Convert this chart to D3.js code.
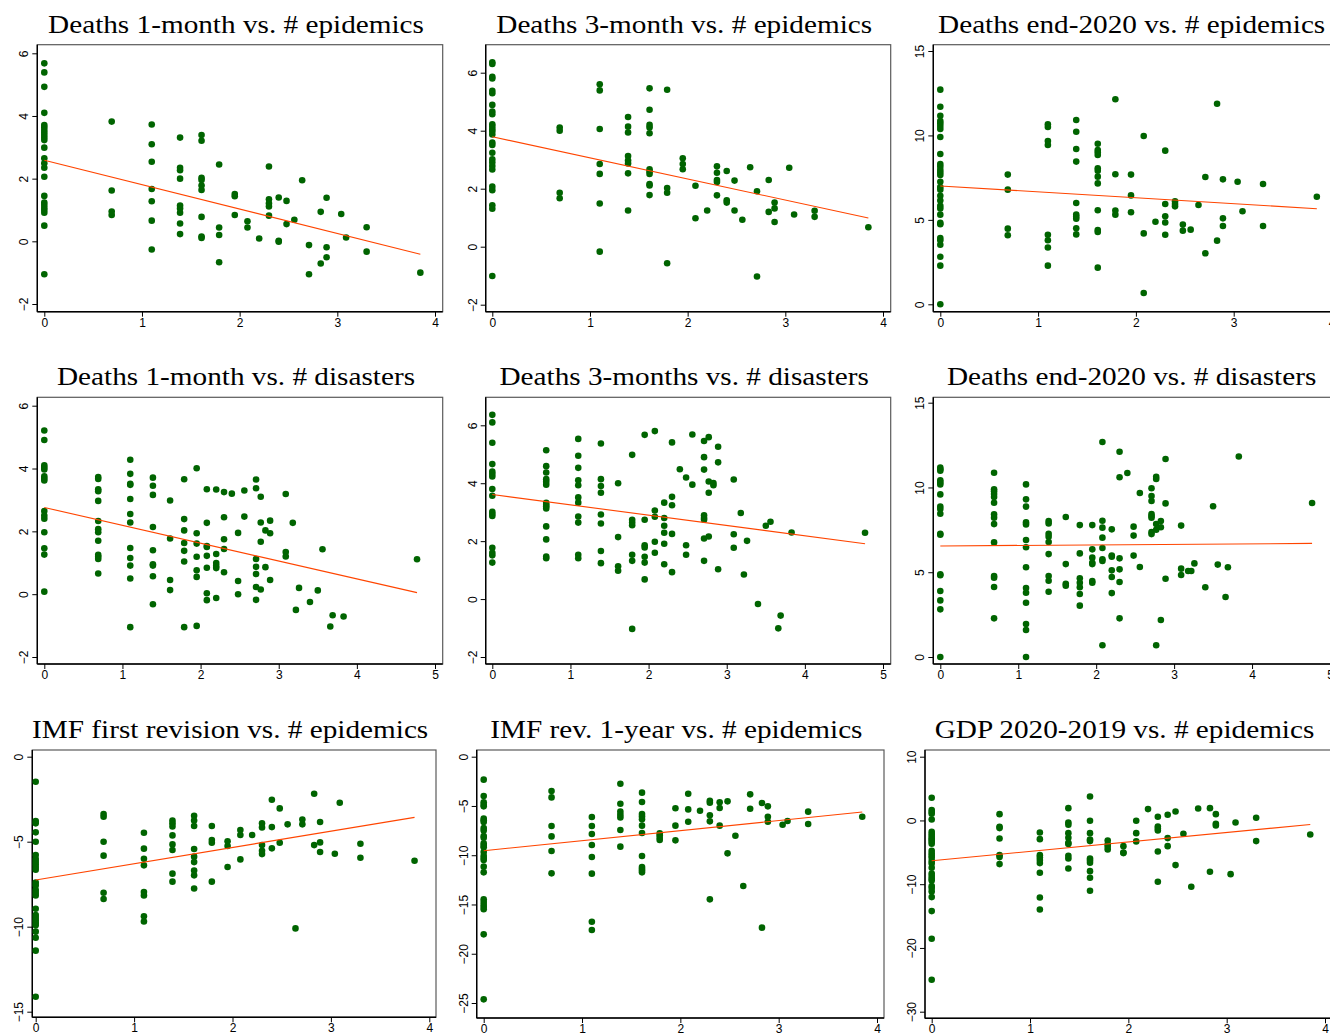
<!DOCTYPE html>
<html>
<head>
<meta charset="utf-8">
<script src="https://cdn.jsdelivr.net/npm/d3@7"></script>
<style>
  html, body { margin: 0; padding: 0; background: #fff; }
  svg { display: block; }
</style>
</head>
<body>
<svg id="chart" width="1330" height="1035"></svg>
<script>
// ---------------- DATA ----------------
const titles = [
  "Deaths 1-month vs. # epidemics", "Deaths 3-month vs. # epidemics", "Deaths end-2020 vs. # epidemics",
  "Deaths 1-month vs. # disasters", "Deaths 3-months vs. # disasters", "Deaths end-2020 vs. # disasters",
  "IMF first revision vs. # epidemics", "IMF rev. 1-year vs. # epidemics", "GDP 2020-2019 vs. # epidemics"
];
const xTicksEpi = [0, 1, 2, 3, 4];
const xTicksDis = [0, 1, 2, 3, 4, 5];
const yTicksDeaths = [-2, 0, 2, 4, 6];
const yTicksEnd = [0, 5, 10, 15];
const yTicksImf1 = [-15, -10, -5, 0];
const yTicksImf2 = [-25, -20, -15, -10, -5, 0];
const yTicksGdp = [-30, -20, -10, 0, 10];

// each entry: [x (log # events), [y values at that x]]
const deaths1mEpi = [
  [0, [5.68,5.39,4.93,4.10,3.71,3.64,3.55,3.47,3.39,3.31,3.23,2.99,2.65,2.49,2.35,2.06,1.45,1.24,1.16,1.07,1.00,0.91,0.50,-1.05]],
  [0.69, [3.82,1.62,0.95,0.84]],
  [1.10, [3.73,3.10,2.54,1.67,1.28,0.66,-0.26]],
  [1.39, [3.31,2.35,2.27,2.00,1.14,1.05,0.91,0.57,0.23]],
  [1.61, [3.39,3.21,2.03,1.96,1.78,1.64,0.78,0.15,0.11]],
  [1.79, [2.45,0.44,0.20,-0.67]],
  [1.95, [1.51,1.44,0.84]],
  [2.08, [0.64,0.44]],
  [2.20, [0.09]],
  [2.30, [2.39,1.34,1.21,1.11,0.82]],
  [2.40, [1.40,0.02,-0.01]],
  [2.48, [1.29,0.55]],
  [2.56, [0.69]],
  [2.64, [1.95]],
  [2.71, [-0.12,-1.05]],
  [2.83, [0.94,-0.71]],
  [2.89, [1.39,-0.19,-0.51]],
  [3.04, [0.87]],
  [3.09, [0.12]],
  [3.30, [0.45,-0.33]],
  [3.85, [-1.00]]
];
const deaths3mEpi = [
  [0, [6.36,6.30,5.86,5.80,5.38,5.29,4.89,4.66,4.57,4.22,4.14,4.05,3.97,3.87,3.59,3.51,3.24,3.01,2.90,2.78,2.66,2.07,1.95,1.43,1.31,-1.01]],
  [0.69, [4.11,4.00,1.86,1.67]],
  [1.10, [5.60,5.39,4.06,2.85,2.51,1.49,-0.17]],
  [1.39, [4.47,4.14,3.94,3.13,2.97,2.87,2.53,1.25]],
  [1.61, [5.46,4.72,4.20,4.11,3.91,2.67,2.59,2.51,2.16,2.11,1.78]],
  [1.79, [5.41,2.02,1.86,-0.57]],
  [1.95, [3.05,2.85,2.67]],
  [2.08, [2.10,0.98]],
  [2.20, [1.25]],
  [2.30, [2.77,2.55,2.30,2.23,1.77]],
  [2.40, [2.61,1.60,1.52]],
  [2.48, [2.28,1.25]],
  [2.56, [0.93]],
  [2.64, [2.74]],
  [2.71, [1.91,-1.03]],
  [2.83, [2.30,1.20]],
  [2.89, [1.52,1.32,0.85]],
  [3.04, [2.72]],
  [3.09, [1.11]],
  [3.30, [1.24,1.03]],
  [3.85, [0.67]]
];
const deathsEndEpi = [
  [0, [12.71,11.70,11.17,10.85,10.72,10.56,10.38,9.91,8.90,8.31,8.15,7.95,7.80,7.66,7.26,6.95,6.79,6.43,6.14,5.84,5.68,5.31,4.82,4.74,3.93,3.79,3.53,2.82,2.29,0]],
  [0.69, [7.68,6.79,4.48,4.09]],
  [1.10, [10.66,10.50,9.67,9.43,4.12,3.79,3.36,2.29]],
  [1.39, [10.91,10.22,9.20,8.45,6.00,5.31,5.19,5.07,4.50,4.14]],
  [1.61, [9.51,9.14,9.00,8.84,8.05,7.91,7.56,7.16,5.57,4.40,4.28,2.17]],
  [1.79, [12.14,7.70,5.55,5.31]],
  [1.95, [7.68,6.45,5.45]],
  [2.08, [9.97,4.20,0.67]],
  [2.20, [4.89]],
  [2.30, [9.10,5.94,5.21,4.84,4.12]],
  [2.40, [6.10,5.94,5.80]],
  [2.48, [4.72,4.36]],
  [2.56, [4.42]],
  [2.64, [5.88]],
  [2.71, [7.54,3.02]],
  [2.83, [11.88,3.77]],
  [2.89, [7.40,5.09,4.64]],
  [3.04, [7.26]],
  [3.09, [5.51]],
  [3.30, [7.12,4.64]],
  [3.85, [6.37]]
];
const deaths1mDis = [
  [0, [5.21,4.91,4.10,4.03,3.97,3.75,3.68,3.62,2.65,2.50,2.40,1.97,1.46,1.26,0.08]],
  [0.69, [3.73,3.67,3.34,3.28,2.97,2.33,2.07,1.97,1.70,1.25,1.19,1.12,0.66]],
  [1.10, [4.28,3.83,3.51,3.48,3.03,2.55,2.28,1.47,1.15,0.91,0.50,-1.05]],
  [1.39, [3.71,3.45,3.16,2.14,1.40,0.95,0.91,0.57,-0.32]],
  [1.61, [2.98,1.77,0.45,0.13]],
  [1.79, [3.66,2.39,2.03,1.63,1.38,1.04,-1.05]],
  [1.95, [4.01,1.94,1.61,1.19,0.76,0.55,-1.01]],
  [2.08, [3.34,2.27,1.53,1.50,1.22,0.84,0.03,-0.19]],
  [2.20, [3.33,1.28,0.99,0.90,0.83,-0.12]],
  [2.30, [3.25,2.45,1.75,1.44,0.70]],
  [2.40, [3.20]],
  [2.48, [1.95,0.42,0.00]],
  [2.56, [3.30,2.47]],
  [2.71, [3.65,3.37,1.12,0.87,0.64,0.23,-0.18]],
  [2.77, [3.10,2.28,1.67,0.15]],
  [2.83, [2.03,0.86]],
  [2.89, [2.34,1.94,0.45]],
  [3.09, [3.19,1.34,1.20]],
  [3.18, [2.27]],
  [3.22, [-0.50]],
  [3.26, [0.20]],
  [3.40, [-0.25]],
  [3.50, [0.12]],
  [3.56, [1.43]],
  [3.66, [-1.03]],
  [3.69, [-0.67]],
  [3.83, [-0.71]],
  [4.77, [1.11]]
];
const deaths3mDis = [
  [0, [6.36,6.10,5.40,4.66,4.40,4.32,4.23,3.80,3.57,3.01,2.94,2.87,1.77,1.60,1.51,1.26]],
  [0.69, [5.14,4.59,4.37,4.14,4.05,3.95,3.32,3.25,3.20,3.13,2.51,2.06,1.47,1.41]],
  [1.10, [5.53,4.95,4.53,4.10,3.93,3.51,3.33,2.85,2.64,1.53,1.41]],
  [1.39, [5.37,4.14,3.90,3.67,2.92,2.61,1.66,1.24]],
  [1.61, [4.00,2.14,1.13,0.98]],
  [1.79, [4.98,2.74,2.64,2.55,1.53,1.32,-1.03]],
  [1.95, [5.67,2.74,1.86,1.78,1.46,1.26,0.68]],
  [2.08, [5.80,3.06,2.84,1.98,1.60]],
  [2.20, [3.33,2.80,2.53,2.29,1.91,1.20]],
  [2.30, [5.41,3.53,3.24,2.25,0.93]],
  [2.40, [4.48]],
  [2.48, [4.20,1.86,1.53]],
  [2.56, [5.68,3.95]],
  [2.71, [5.46,4.90,4.47,2.89,2.80,2.74,2.09,1.32]],
  [2.77, [5.59,4.06,3.67,2.16]],
  [2.83, [4.01,3.93]],
  [2.89, [5.26,4.72,1.03]],
  [3.09, [4.13,2.24,1.77]],
  [3.18, [2.97]],
  [3.22, [0.85]],
  [3.26, [2.01]],
  [3.40, [-0.17]],
  [3.50, [2.53]],
  [3.56, [2.67]],
  [3.66, [-1.01]],
  [3.69, [-0.57]],
  [3.83, [2.30]],
  [4.77, [2.29]]
];
const deathsEndDis = [
  [0, [11.17,11.07,10.99,10.42,10.30,10.18,9.59,8.87,8.73,8.45,7.27,7.21,4.88,4.82,3.89,3.34,2.81,0]],
  [0.69, [10.87,9.89,9.77,9.61,9.44,9.10,8.41,8.22,7.84,6.76,4.78,4.68,4.13,2.28]],
  [1.10, [10.18,9.30,8.87,7.94,7.82,6.90,6.47,5.29,4.07,3.79,3.20,1.95,1.59,0]],
  [1.39, [8.02,7.88,7.27,7.10,6.78,6.07,4.78,4.50,3.85]],
  [1.61, [8.26,5.48,4.32,4.21]],
  [1.79, [7.78,6.11,4.64,4.38,4.11,3.72,3.03]],
  [1.95, [7.78,6.35,5.86,5.56,5.48,4.48,4.38]],
  [2.08, [12.68,8.04,7.63,7.04,6.43,5.76,5.66,0.69]],
  [2.20, [7.53,5.98,5.92,5.11,4.72,3.77]],
  [2.30, [12.11,10.60,5.82,5.17,4.42,2.28]],
  [2.40, [10.85]],
  [2.48, [7.69,7.16,5.98]],
  [2.56, [9.67,5.31]],
  [2.71, [9.95,9.49,9.20,8.43,8.32,8.22,7.37,7.25]],
  [2.77, [10.63,10.50,7.84,7.51,0.69]],
  [2.83, [8.02,7.65,2.18]],
  [2.89, [11.68,9.06,4.62]],
  [3.09, [7.75,5.21,4.84]],
  [3.18, [5.07]],
  [3.22, [5.07]],
  [3.26, [5.52]],
  [3.40, [4.11]],
  [3.50, [8.89]],
  [3.56, [5.45]],
  [3.66, [3.54]],
  [3.69, [5.29]],
  [3.83, [11.83]],
  [4.77, [9.08]]
];
const imfFirstEpi = [
  [0, [-1.47,-3.78,-3.92,-4.45,-5.00,-5.78,-6.02,-6.18,-6.33,-6.49,-6.65,-7.41,-7.57,-7.84,-8.00,-8.16,-8.94,-9.31,-9.47,-9.63,-9.78,-9.92,-10.29,-10.65,-11.41,-14.12]],
  [0.69, [-3.37,-3.53,-5.00,-5.82,-8.00,-8.37]],
  [1.10, [-4.47,-5.41,-6.00,-6.39,-7.96,-8.16,-9.39,-9.69]],
  [1.39, [-3.76,-3.92,-4.10,-4.63,-5.16,-5.49,-6.88,-7.35]],
  [1.61, [-3.47,-3.76,-4.08,-5.43,-5.88,-6.20,-6.69,-6.98,-7.75]],
  [1.79, [-4.08,-4.90,-5.06,-7.35]],
  [1.95, [-4.98,-5.25,-6.49]],
  [2.08, [-4.31,-4.61,-6.04]],
  [2.20, [-4.61]],
  [2.30, [-3.92,-4.16,-5.20,-5.53,-5.73]],
  [2.40, [-2.53,-4.14,-5.39]],
  [2.48, [-3.04,-5.06]],
  [2.56, [-3.98]],
  [2.64, [-10.10]],
  [2.71, [-3.69,-3.98]],
  [2.83, [-2.18,-5.20]],
  [2.89, [-3.84,-5.04,-5.61]],
  [3.04, [-5.71]],
  [3.09, [-2.71]],
  [3.30, [-5.12,-5.94]],
  [3.85, [-6.12]]
];
const imfYearEpi = [
  [0, [-2.33,-3.99,-4.63,-4.87,-5.04,-6.29,-6.46,-6.63,-7.24,-7.48,-8.05,-8.22,-8.80,-9.03,-9.20,-9.67,-10.05,-10.28,-10.49,-11.16,-11.74,-14.48,-14.75,-15.02,-15.26,-15.49,-18.03,-24.63]],
  [0.69, [-3.48,-4.13,-7.04,-8.09,-9.57,-11.84]],
  [1.10, [-6.12,-7.04,-7.85,-8.96,-10.18,-11.87,-16.75,-17.59]],
  [1.39, [-2.74,-4.77,-5.58,-5.89,-6.16,-7.44,-9.13]],
  [1.61, [-3.65,-4.60,-5.82,-6.06,-6.36,-7.00,-7.75,-10.08,-11.20,-11.37,-11.54,-11.74]],
  [1.79, [-7.78,-7.98,-8.22,-8.46]],
  [1.95, [-5.24,-7.00,-8.49]],
  [2.08, [-3.76,-5.35,-6.60]],
  [2.20, [-5.48]],
  [2.30, [-4.47,-4.67,-5.95,-6.56,-14.48]],
  [2.40, [-4.63,-5.21,-7.00]],
  [2.48, [-4.53,-9.81]],
  [2.56, [-8.02]],
  [2.64, [-13.13]],
  [2.71, [-3.82,-5.28]],
  [2.83, [-4.70,-17.35]],
  [2.89, [-5.04,-6.09,-6.60]],
  [3.04, [-6.90]],
  [3.09, [-6.53]],
  [3.30, [-5.58,-6.83]],
  [3.85, [-6.09]]
];
const gdpEpi = [
  [0, [3.55,1.62,1.31,1.05,0.16,-1.78,-2.14,-2.46,-2.82,-3.08,-3.35,-3.66,-4.76,-5.17,-5.54,-5.85,-6.38,-6.74,-7.42,-8.31,-8.73,-9.10,-9.41,-10.30,-10.61,-11.13,-12.02,-14.22,-18.56,-24.99]],
  [0.69, [0.99,-0.99,-1.20,-2.82,-5.44,-5.75,-6.85]],
  [1.10, [-1.88,-2.93,-5.44,-5.80,-6.22,-6.69,-8.21,-12.08,-13.96]],
  [1.39, [1.93,-0.31,-0.68,-1.99,-2.72,-3.50,-3.71,-5.54,-5.96,-7.53]],
  [1.61, [3.76,-0.05,-1.99,-2.98,-3.24,-5.96,-6.27,-6.64,-7.95,-8.99,-11.03]],
  [1.79, [-3.14,-3.76,-4.13,-4.55]],
  [1.95, [-4.03,-5.02,-5.12]],
  [2.08, [-0.05,-1.99,-3.29]],
  [2.20, [1.78]],
  [2.30, [0.58,-0.94,-1.25,-1.57,-4.86,-9.62]],
  [2.40, [0.89,-2.77,-4.03]],
  [2.48, [1.41,-7.00]],
  [2.56, [-2.09]],
  [2.64, [-10.40]],
  [2.71, [1.88]],
  [2.83, [1.93,-8.05]],
  [2.89, [0.99,-0.52,-0.78]],
  [3.04, [-8.42]],
  [3.09, [-0.31]],
  [3.30, [0.42,-3.24]],
  [3.85, [-2.20]]
];
// fitted lines: [[x0, y0], [x1, y1]]
const fitLines = [
  [[0, 2.59], [3.85, -0.41]],
  [[0, 3.79], [3.85, 0.99]],
  [[0, 7.01], [3.85, 5.66]],
  [[0, 2.76], [4.77, 0.05]],
  [[0, 3.61], [4.77, 1.91]],
  [[0, 6.55], [4.77, 6.70]],
  [[0, -7.25], [3.85, -3.57]],
  [[0, -9.54], [3.85, -5.62]],
  [[0, -6.33], [3.85, -0.63]]
];

// ---------------- LAYOUT (pixels) ----------------
// frame: [left, top, right, bottom]; xr: pixel of first/last x tick; yr: pixel of first/last y tick
const layout = [
  { data: deaths1mEpi,  xt: xTicksEpi, yt: yTicksDeaths, frame: [37.3, 44.7, 442.7, 311.7], xr: [44.3, 435],   yr: [304, 53.3] },
  { data: deaths3mEpi,  xt: xTicksEpi, yt: yTicksDeaths, frame: [485.7, 44.7, 890.7, 311.7], xr: [492.3, 883], yr: [304.7, 72.7] },
  { data: deathsEndEpi, xt: xTicksEpi, yt: yTicksEnd,    frame: [933.3, 44.7, 1338, 311.7], xr: [940.3, 1331.5], yr: [304.3, 51] },
  { data: deaths1mDis,  xt: xTicksDis, yt: yTicksDeaths, frame: [37.3, 397.3, 442.7, 664], xr: [44.3, 435],   yr: [657, 405.7] },
  { data: deaths3mDis,  xt: xTicksDis, yt: yTicksDeaths, frame: [485.7, 397.3, 890.7, 664], xr: [492.3, 883], yr: [657, 425.3] },
  { data: deathsEndDis, xt: xTicksDis, yt: yTicksEnd,    frame: [933.3, 397.3, 1338, 664], xr: [940.3, 1330],  yr: [657, 402.7] },
  { data: imfFirstEpi,  xt: xTicksEpi, yt: yTicksImf1,   frame: [32.3, 750, 436, 1017.3], xr: [35.7, 429.3],  yr: [1011.7, 756.7] },
  { data: imfYearEpi,   xt: xTicksEpi, yt: yTicksImf2,   frame: [476.7, 750, 884, 1018], xr: [483.7, 877],    yr: [1003, 756.7] },
  { data: gdpEpi,       xt: xTicksEpi, yt: yTicksGdp,    frame: [925, 750, 1332, 1018.3], xr: [931.7, 1325],  yr: [1011.7, 756.7] }
];

const svg = d3.select("#chart");
const green = "#006400";
const fitColor = "#ff4500";

layout.forEach((p, i) => {
  const [l, t, r, b] = p.frame;
  const x = d3.scaleLinear().domain([p.xt[0], p.xt[p.xt.length - 1]]).range(p.xr);
  const y = d3.scaleLinear().domain([p.yt[0], p.yt[p.yt.length - 1]]).range(p.yr);
  const g = svg.append("g");

  // title (Computer-Modern-like width: widened serif)
  g.append("text")
    .attr("transform", `translate(${(l + r) / 2 - 4},${t - 12}) scale(1.17,1)`)
    .attr("text-anchor", "middle")
    .attr("font-family", "'Liberation Serif', 'Times New Roman', serif")
    .attr("font-size", 25)
    .attr("fill", "#000")
    .text(titles[i]);

  // frame (top/right gray)
  g.append("rect")
    .attr("x", l).attr("y", t).attr("width", r - l).attr("height", b - t)
    .attr("fill", "#fff").attr("stroke", "#5a5a5a").attr("stroke-width", 1.2);

  // axes
  const yAxis = d3.axisLeft(y).tickValues(p.yt).tickSize(5).tickPadding(3).tickFormat(d3.format("d"));
  const yg = g.append("g").attr("transform", `translate(${l},0)`).call(yAxis);
  yg.attr("font-size", null).attr("font-family", null);
  yg.select(".domain").attr("d", `M0,${t}V${b}`).attr("stroke", "#000").attr("stroke-width", 1.4);
  yg.selectAll(".tick line").attr("stroke", "#000");
  yg.selectAll(".tick text")
    .attr("x", null).attr("dy", null)
    .attr("text-anchor", "middle")
    .attr("transform", "translate(-9,0) rotate(-90)")
    .style("font-family", "'Liberation Sans', Arial, sans-serif")
    .style("font-size", "12px")
    .attr("fill", "#000");

  const xAxis = d3.axisBottom(x).tickValues(p.xt).tickSize(5).tickPadding(3).tickFormat(d3.format("d"));
  const xg = g.append("g").attr("transform", `translate(0,${b})`).call(xAxis);
  xg.attr("font-size", null).attr("font-family", null);
  xg.select(".domain").attr("d", `M${l},0H${r}`).attr("stroke", "#000").attr("stroke-width", 1.4);
  xg.selectAll(".tick line").attr("stroke", "#000");
  xg.selectAll(".tick text")
    .attr("y", 6.5)
    .style("font-family", "'Liberation Sans', Arial, sans-serif")
    .style("font-size", "12px")
    .attr("fill", "#000");

  // points
  const pts = p.data.flatMap(([xv, ys]) => ys.map(yv => [xv, yv]));
  g.append("g").selectAll("circle").data(pts).join("circle")
    .attr("cx", d => x(d[0]))
    .attr("cy", d => y(d[1]))
    .attr("r", 3.3)
    .attr("fill", green);

  // fit line
  g.append("path")
    .datum(fitLines[i])
    .attr("d", d3.line().x(d => x(d[0])).y(d => y(d[1])))
    .attr("fill", "none")
    .attr("stroke", fitColor)
    .attr("stroke-width", 1.1);
});
</script>
</body>
</html>
